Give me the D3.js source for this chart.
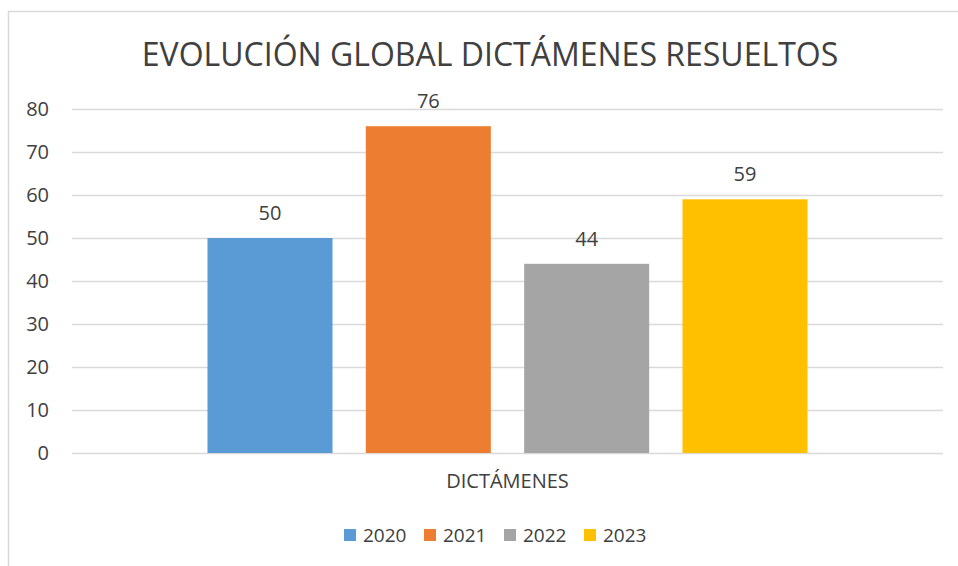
<!DOCTYPE html>
<html>
<head>
<meta charset="utf-8">
<script src="https://cdn.jsdelivr.net/npm/d3@7"></script>
<style>
  body { margin: 0; background: #fff; }
  svg text { font-family: "Open Sans", sans-serif; fill: #404040; }
</style>
</head>
<body>
<svg id="graph" width="958" height="566"></svg>
<script>
// données
const titre = "EVOLUCIÓN GLOBAL DICTÁMENES RESUELTOS";
const categories = ["DICTÁMENES"];
const annees = ["2020", "2021", "2022", "2023"];
const valeurs = [50, 76, 44, 59];
const couleurs = ["#5B9BD5", "#ED7D31", "#A5A5A5", "#FFC000"];
const ticksY = [0, 10, 20, 30, 40, 50, 60, 70, 80];

const svg = d3.select("#graph");

// cadre du graphique (déborde à droite et en bas)
svg.append("rect")
  .attr("x", 8.5).attr("y", 11.5)
  .attr("width", 960).attr("height", 570)
  .attr("fill", "none")
  .attr("stroke", "#d9d9d9")
  .attr("stroke-width", 1.5);

const gauche = 72, droite = 943, haut = 109, bas = 453;

const y = d3.scaleLinear().domain([0, 80]).range([bas, haut]);

const x0 = d3.scaleBand().domain(categories).range([gauche, droite])
  .paddingInner(0).paddingOuter(0.2258);
const x1 = d3.scaleBand().domain(annees).range([0, x0.bandwidth()])
  .paddingInner(0.2105).paddingOuter(0);

// titre
svg.append("text")
  .attr("x", 490).attr("y", 66)
  .attr("text-anchor", "middle")
  .style("font-size", "32px")
  .text(titre);

// grille + axe Y
const axeY = svg.append("g")
  .attr("transform", `translate(${gauche},0)`)
  .call(d3.axisLeft(y).tickValues(ticksY).tickSize(-(droite - gauche)).tickPadding(23));
axeY.select(".domain").remove();
axeY.selectAll("line").attr("stroke", "#d9d9d9").attr("stroke-width", 1.5);
axeY.selectAll("text")
  .style("font-size", "20px")
  .style("font-family", "'Open Sans', sans-serif")
  .attr("fill", "#404040");

// barres
const groupe = svg.append("g")
  .selectAll("g")
  .data(categories)
  .join("g")
  .attr("transform", d => `translate(${x0(d)},0)`);

groupe.selectAll("rect")
  .data(annees.map((a, i) => ({ annee: a, valeur: valeurs[i], couleur: couleurs[i] })))
  .join("rect")
  .attr("x", d => x1(d.annee))
  .attr("y", d => y(d.valeur))
  .attr("width", x1.bandwidth())
  .attr("height", d => y(0) - y(d.valeur))
  .attr("fill", d => d.couleur);

// étiquettes de valeur
groupe.selectAll(".etiquette")
  .data(annees.map((a, i) => ({ annee: a, valeur: valeurs[i] })))
  .join("text")
  .attr("class", "etiquette")
  .attr("x", d => x1(d.annee) + x1.bandwidth() / 2)
  .attr("y", d => y(d.valeur) - 18)
  .attr("text-anchor", "middle")
  .style("font-size", "20px")
  .text(d => d.valeur);

// axe X : nom de catégorie
svg.append("g")
  .selectAll("text")
  .data(categories)
  .join("text")
  .attr("x", d => x0(d) + x0.bandwidth() / 2)
  .attr("y", 488)
  .attr("text-anchor", "middle")
  .style("font-size", "20px")
  .text(d => d);

// légende
const legende = svg.append("g")
  .selectAll("g")
  .data(annees)
  .join("g")
  .attr("transform", (d, i) => `translate(${344 + i * 80},529)`);

legende.append("rect")
  .attr("width", 12).attr("height", 12)
  .attr("fill", (d, i) => couleurs[i]);

legende.append("text")
  .attr("x", 19).attr("y", 13)
  .style("font-size", "19px")
  .text(d => d);
</script>
</body>
</html>
